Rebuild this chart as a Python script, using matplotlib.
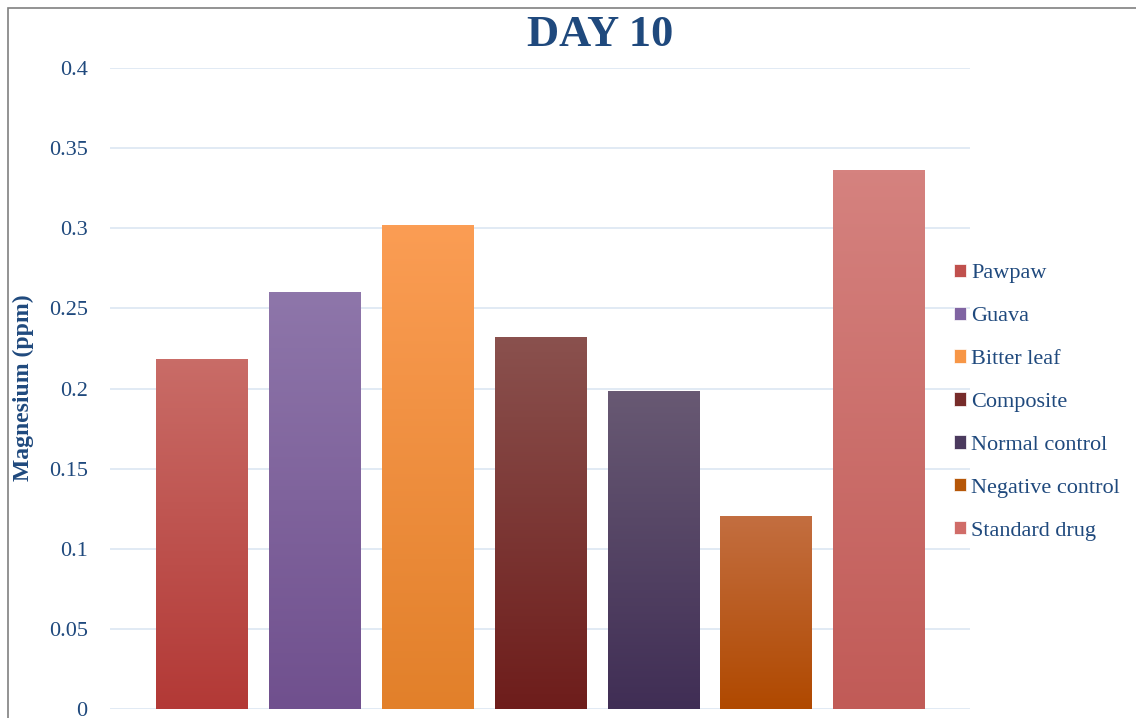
import numpy as np
import matplotlib.pyplot as plt
import matplotlib.colors as mcolors
from matplotlib.patches import Rectangle

# data
groups = ["Pawpaw", "Guava", "Bitter leaf", "Composite",
          "Normal control", "Negative control", "Standard drug"]
magnesium = [0.218, 0.260, 0.302, 0.232, 0.198, 0.120, 0.336]
yticks = [0, 0.05, 0.1, 0.15, 0.2, 0.25, 0.3, 0.35, 0.4]

# gradient colours, top -> bottom, and legend swatch colour
tops = ["#C96C67", "#8E76AA", "#FB9D54", "#8A514E", "#685973", "#C36E40", "#D5827F"]
bottoms = ["#B33936", "#70508E", "#E2802A", "#6E1D1B", "#402E55", "#B04900", "#C15B57"]
swatch = ["#C0504D", "#8064A2", "#F79646", "#772C2A", "#4B3A5E", "#B65708", "#D06C68"]

txtcol = "#1F497D"
plt.rcParams["font.family"] = ["Liberation Serif", "DejaVu Serif"]

fig = plt.figure(figsize=(11.36, 7.18), dpi=100)
ax = fig.add_axes([0.0968, 0.0125, 0.757, 0.8928])

w = 0.807
x = np.arange(len(groups))
for i in range(len(groups)):
    c1 = np.array(mcolors.to_rgb(tops[i]))
    c2 = np.array(mcolors.to_rgb(bottoms[i]))
    t = np.linspace(0, 1, 200)[:, None]
    img = (c1 * (1 - t) + c2 * t)[:, None, :]
    ax.imshow(img, extent=(x[i] - w / 2, x[i] + w / 2, 0, magnesium[i]),
              aspect="auto", zorder=2, interpolation="nearest")

ax.set_xlim(-0.816, 6.81)
ax.set_ylim(0, 0.4)
ax.set_yticks(yticks)
ax.set_yticklabels([f"{v:g}" for v in yticks], fontsize=16, color=txtcol)
ax.tick_params(axis="y", length=0, pad=16)
ax.set_xticks([])
ax.grid(axis="y", color="#DCE6F2", lw=1.2, zorder=0)
ax.set_axisbelow(True)
for s in ax.spines.values():
    s.set_visible(False)

handles = [Rectangle((0, 0), 1, 1, fc=swatch[i], ec="white", lw=0.5)
           for i in range(len(groups))]
fig.legend(handles, groups, loc="center left", bbox_to_anchor=(0.822, 0.44),
           frameon=False, fontsize=16, labelcolor=txtcol, handlelength=0.55,
           handleheight=0.55, handletextpad=0.22, labelspacing=1.05)

fig.text(0.528, 0.951, "DAY 10", ha="center", va="center", fontsize=32,
         fontweight="bold", color=txtcol)
fig.text(0.021, 0.46, "Magnesium (ppm)", rotation=90, ha="center", va="center",
         fontsize=17, fontweight="bold", color=txtcol)

# thin frame round the chart
fig.add_artist(Rectangle((0.007, -0.05), 1.2, 1.039, transform=fig.transFigure,
                         fill=False, ec="#808080", lw=1.2))

fig.savefig("out.png", dpi=100)
